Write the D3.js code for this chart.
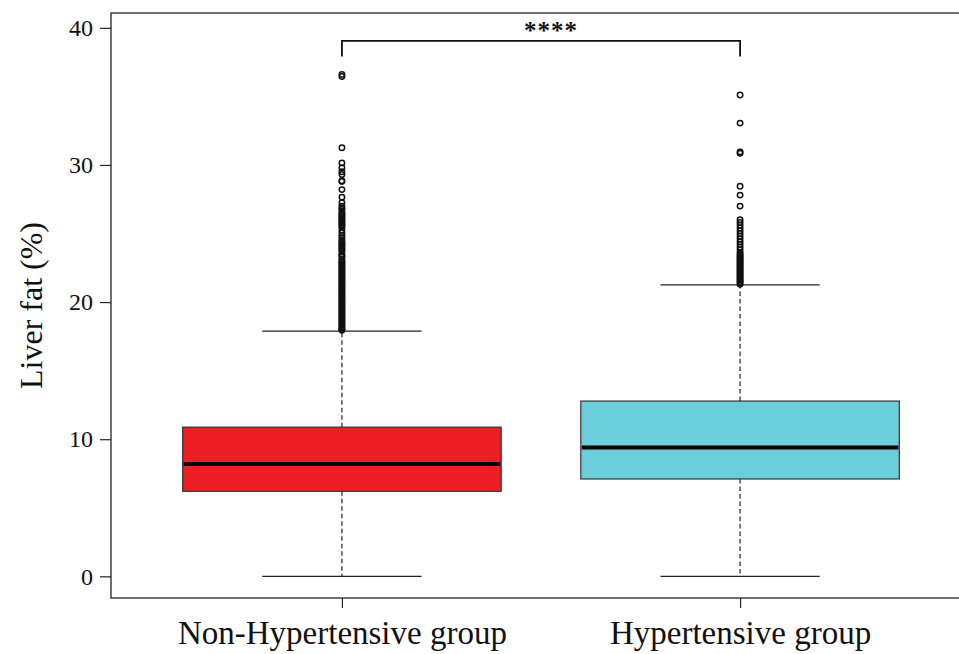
<!DOCTYPE html>
<html>
<head>
<meta charset="utf-8">
<script src="https://cdn.jsdelivr.net/npm/d3@7"></script>
<style>
  body { margin: 0; background: #fff; }
  text { font-family: "Liberation Serif", "Times New Roman", serif; fill: #111; }
</style>
</head>
<body>
<div id="chart"></div>
<script>
const width = 959, height = 654;

// Box summary per group (liver fat, %)
const groups      = ['Non-Hypertensive group', 'Hypertensive group'];
const boxColors   = ['#ED1F24', '#6CCDDB'];
const whiskerLow  = [0.0, 0.0];
const q1          = [6.2, 7.1];
const median      = [8.2, 9.4];
const q3          = [10.88, 12.78];
const whiskerHigh = [17.88, 21.25];

// Outliers (dense runs are heavily overplotted)
const nonHypOutliers = [
  36.6, 36.45, 31.25, 30.15, 29.8, 29.5, 29.3, 28.85, 28.8, 28.2, 27.65, 27.25,
  27.0, 26.85, 26.75, 26.55, 26.45, 26.35, 26.25, 26.15, 26.05, 25.95, 25.85, 25.75,
  25.65, 25.55, 25.45, 25.25, 25.05, 24.85, 24.7, 24.55, 24.4, 24.3, 24.2, 24.1,
  24.0, 23.9, 23.8, 23.7, 23.5, 23.4, 23.3, 23.15, 23.0, 22.9, 22.8, 22.7,
  22.6, 22.5, 22.4, 22.3, 22.2, 22.1, 22.0, 21.9, 21.8, 21.7, 21.6, 21.5,
  21.4, 21.3, 21.2, 21.1, 21.0, 20.9, 20.8, 20.7, 20.6, 20.5, 20.4, 20.3,
  20.2, 20.1, 20.0, 19.9, 19.8, 19.7, 19.6, 19.5, 19.4, 19.3, 19.2, 19.1,
  19.0, 18.9, 18.8, 18.7, 18.6, 18.5, 18.4, 18.3, 18.2, 18.1, 18.0, 17.95
];
const hypOutliers = [
  35.1, 33.05, 30.95, 30.85, 28.45, 27.8, 27.0,
  26.0, 25.8, 25.6, 25.4, 25.2, 25.0, 24.8, 24.6, 24.4, 24.2, 24.0, 23.8,
  23.6, 23.5, 23.4, 23.3, 23.2, 23.1, 23.0, 22.9, 22.8, 22.7, 22.6, 22.5,
  22.4, 22.3, 22.2, 22.1, 22.0, 21.9, 21.8, 21.7, 21.6, 21.5, 21.4, 21.3
];
const outliers = [nonHypOutliers, hypOutliers];

const yTicks = [0, 10, 20, 30, 40];
const yLabel = 'Liver fat (%)';
const sigLabel = '****';
const sigLevel = 39.05;

const margin = {top: 13, right: -12, bottom: 56, left: 111};

const styles = {
  frame: {fill: 'none', stroke: '#222', 'stroke-width': 1.3},
  box: {stroke: '#333', 'stroke-width': 1.2},
  median: {stroke: '#000', 'stroke-width': 4},
  whisker: {stroke: '#222', 'stroke-width': 1.2, 'stroke-dasharray': '4.5,3'},
  cap: {stroke: '#222', 'stroke-width': 1.3},
  outlier: {fill: 'none', stroke: '#111', 'stroke-width': 1.5, r: 2.7},
  bracket: {fill: 'none', stroke: '#111', 'stroke-width': 1.8}
};

function applyAttrs(sel, obj) {
  Object.entries(obj).forEach(([k, v]) => sel.attr(k, v));
  return sel;
}

const svg = d3.select('#chart').append('svg')
  .attr('width', width)
  .attr('height', height);

// R-style scales: positions 1..2, box width 0.8, 4% padding
const x = d3.scaleLinear().domain([0.42, 2.58]).range([margin.left, width - margin.right]);
const y = d3.scaleLinear().domain([-1.58, 41.08]).range([height - margin.bottom, margin.top]);
const boxHalf = 0.4, capHalf = 0.2;

const plot = svg.append('g').attr('class', 'plot');

groups.forEach((g, i) => {
  const cx = i + 1;
  const grp = plot.append('g').attr('class', 'group');

  // dashed whiskers
  applyAttrs(grp.append('line'), styles.whisker)
    .attr('x1', x(cx)).attr('x2', x(cx))
    .attr('y1', y(q3[i])).attr('y2', y(whiskerHigh[i]));
  applyAttrs(grp.append('line'), styles.whisker)
    .attr('x1', x(cx)).attr('x2', x(cx))
    .attr('y1', y(q1[i])).attr('y2', y(whiskerLow[i]));

  // whisker caps
  [whiskerLow[i], whiskerHigh[i]].forEach(v => {
    applyAttrs(grp.append('line'), styles.cap)
      .attr('x1', x(cx - capHalf)).attr('x2', x(cx + capHalf))
      .attr('y1', y(v)).attr('y2', y(v));
  });

  // box
  applyAttrs(grp.append('rect'), styles.box)
    .attr('x', x(cx - boxHalf))
    .attr('width', x(cx + boxHalf) - x(cx - boxHalf))
    .attr('y', y(q3[i]))
    .attr('height', y(q1[i]) - y(q3[i]))
    .attr('fill', boxColors[i]);

  // median
  applyAttrs(grp.append('line'), styles.median)
    .attr('x1', x(cx - boxHalf) + 1).attr('x2', x(cx + boxHalf) - 1)
    .attr('y1', y(median[i])).attr('y2', y(median[i]));

  // outliers
  grp.selectAll('circle.outlier')
    .data(outliers[i])
    .join('circle')
    .attr('class', 'outlier')
    .attr('cx', x(cx))
    .attr('cy', d => y(d))
    .each(function() { applyAttrs(d3.select(this), styles.outlier); });
});

// frame (right side falls just outside the picture, as in the original)
applyAttrs(svg.append('rect'), styles.frame)
  .attr('x', margin.left)
  .attr('y', margin.top)
  .attr('width', x(2.58) - margin.left)
  .attr('height', y(-1.58) - margin.top);

// y axis
const yAxis = svg.append('g')
  .attr('transform', `translate(${margin.left},0)`)
  .call(d3.axisLeft(y).tickValues(yTicks).tickSize(11).tickPadding(7));
yAxis.select('.domain').remove();
yAxis.selectAll('line').attr('stroke', '#222').attr('stroke-width', 1.2);
yAxis.selectAll('text')
  .style('font-family', '"Liberation Serif", serif')
  .style('font-size', '24px')
  .attr('fill', '#111');

// x axis
const xAxis = svg.append('g')
  .attr('transform', `translate(0,${y(-1.58)})`)
  .call(d3.axisBottom(x).tickValues([1, 2]).tickFormat((d, i) => groups[i]).tickSize(10).tickPadding(13));
xAxis.select('.domain').remove();
xAxis.selectAll('line').attr('stroke', '#222').attr('stroke-width', 1.2);
xAxis.selectAll('text')
  .style('font-family', '"Liberation Serif", serif')
  .style('font-size', '33px')
  .attr('fill', '#111');

// y axis title
svg.append('text')
  .attr('transform', `translate(42,${(y(-1.58) + margin.top) / 2}) rotate(-90)`)
  .attr('text-anchor', 'middle')
  .style('font-size', '32px')
  .text(yLabel);

// significance bracket
const legDrop = 1.15;
svg.append('path')
  .attr('d', `M${x(1)},${y(sigLevel - legDrop)}V${y(sigLevel)}H${x(2)}V${y(sigLevel - legDrop)}`)
  .each(function() { applyAttrs(d3.select(this), styles.bracket); });

svg.append('text')
  .attr('x', x(1.525))
  .attr('y', y(sigLevel) - 2)
  .attr('text-anchor', 'middle')
  .style('font-size', '25px')
  .style('font-weight', 'bold')
  .style('letter-spacing', '1px')
  .text(sigLabel);
</script>
</body>
</html>
